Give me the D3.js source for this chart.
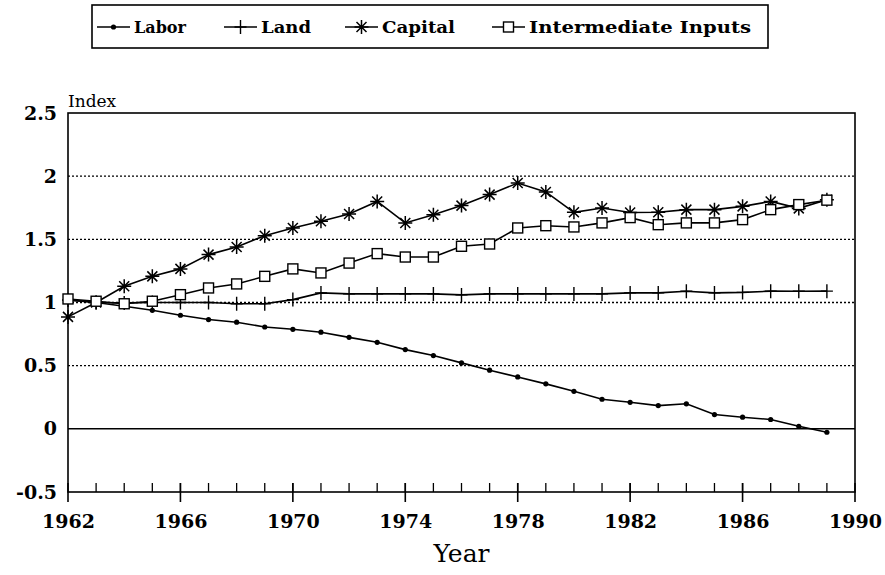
<!DOCTYPE html>
<html><head><meta charset="utf-8">
<script src="https://cdn.jsdelivr.net/npm/d3@7"></script>
<style>body{margin:0;background:#fff}svg{display:block}</style>
</head><body>
<svg id="c" width="885" height="575"></svg>
<script>
const years = d3.range(1962, 1990);
const labor = [1.02,1.0,0.97,0.938,0.899,0.865,0.844,0.806,0.788,0.765,0.724,0.685,0.627,0.58,0.522,0.464,0.411,0.356,0.297,0.234,0.21,0.184,0.198,0.113,0.092,0.074,0.02,-0.027];
const land = [1.02,1.0,0.997,1.0,1.0,1.0,0.99,0.99,1.023,1.076,1.068,1.068,1.068,1.068,1.06,1.068,1.068,1.068,1.068,1.068,1.076,1.076,1.089,1.076,1.08,1.09,1.089,1.09];
const capital = [0.886,1.0,1.128,1.207,1.266,1.379,1.44,1.529,1.59,1.643,1.7,1.8,1.63,1.695,1.767,1.854,1.946,1.875,1.714,1.748,1.712,1.714,1.735,1.735,1.761,1.8,1.745,1.814];
const intermediate = [1.028,1.01,0.99,1.01,1.062,1.115,1.147,1.207,1.266,1.234,1.312,1.387,1.36,1.36,1.445,1.463,1.59,1.608,1.598,1.63,1.672,1.616,1.63,1.63,1.656,1.735,1.775,1.81];
const seriesNames = ["Labor","Land","Capital","Intermediate Inputs"];
const markerTypes = ["dot","plus","star","square"];
const yTicks = [-0.5,0,0.5,1,1.5,2,2.5];
const yTickLabels = ["-0.5","0","0.5","1","1.5","2","2.5"];
const xMajor = [1962,1966,1970,1974,1978,1982,1986,1990];

const svg = d3.select("#c");
const L = 68, R = 855, T = 113, B = 492;
const x = d3.scaleLinear().domain([1962,1990]).range([L,R]);
const y = d3.scaleLinear().domain([-0.5,2.5]).range([B,T]);

// gridlines
[0.5,1,1.5,2].forEach(v=>{
  svg.append("line").attr("x1",L).attr("x2",R).attr("y1",y(v)).attr("y2",y(v))
    .attr("stroke","#000").attr("stroke-width",1.4).attr("stroke-dasharray","2,2");
});
svg.append("line").attr("x1",L).attr("x2",R).attr("y1",y(0)).attr("y2",y(0))
  .attr("stroke","#000").attr("stroke-width",1.5);
// frame
svg.append("rect").attr("x",L).attr("y",T).attr("width",R-L).attr("height",B-T)
  .attr("fill","none").attr("stroke","#000").attr("stroke-width",1.6);

// x axis ticks
const xAxis = d3.axisBottom(x).tickValues(xMajor).tickFormat(d3.format("d")).tickSize(0).tickPadding(23);
const gx = svg.append("g").attr("transform",`translate(0,${B})`).call(xAxis);
gx.select(".domain").remove();
gx.selectAll("text").attr("font-family","DejaVu Serif").attr("font-weight","bold").attr("font-size",19).attr("fill","#000");
const minor = d3.range(1963,1990);
svg.append("g").selectAll("line").data(minor).join("line")
  .attr("x1",d=>x(d)).attr("x2",d=>x(d)).attr("y1",B).attr("y2",B-9)
  .attr("stroke","#000").attr("stroke-width",1.3);
svg.append("g").selectAll("line").data(xMajor).join("line")
  .attr("x1",d=>x(d)).attr("x2",d=>x(d)).attr("y1",B-9).attr("y2",B+10)
  .attr("stroke","#000").attr("stroke-width",1.6);

// y labels
const yAxis = d3.axisLeft(y).tickValues(yTicks).tickFormat((d,i)=>yTickLabels[i]).tickSize(0).tickPadding(11);
const gy = svg.append("g").attr("transform",`translate(${L},0)`).call(yAxis);
gy.select(".domain").remove();
gy.selectAll("text").attr("font-family","DejaVu Serif").attr("font-weight","bold").attr("font-size",19).attr("fill","#000");

svg.append("text").attr("x",L).attr("y",107).text("Index")
  .attr("font-family","DejaVu Serif").attr("font-size",17);
svg.append("text").attr("x",(L+R)/2).attr("y",562).attr("text-anchor","middle").text("Year")
  .attr("font-family","DejaVu Serif").attr("font-size",25);

function marker(g, type, cx, cy){
  if(type==="dot"){
    g.append("circle").attr("cx",cx).attr("cy",cy).attr("r",2.6).attr("fill","#000");
  } else if(type==="plus"){
    g.append("path").attr("d",`M${cx-6},${cy}H${cx+6}M${cx},${cy-7}V${cy+7}`)
      .attr("stroke","#000").attr("stroke-width",1.4).attr("fill","none");
  } else if(type==="star"){
    const r=7, d=5;
    g.append("path").attr("d",`M${cx-r},${cy}H${cx+r}M${cx},${cy-r}V${cy+r}M${cx-d},${cy-d}L${cx+d},${cy+d}M${cx-d},${cy+d}L${cx+d},${cy-d}`)
      .attr("stroke","#000").attr("stroke-width",1.5).attr("fill","none");
  } else {
    g.append("rect").attr("x",cx-5).attr("y",cy-5).attr("width",10).attr("height",10)
      .attr("fill","#fff").attr("stroke","#000").attr("stroke-width",1.4);
  }
}

const allSeries = [labor, land, capital, intermediate];
const line = d3.line().x((d,i)=>x(years[i])).y(d=>y(d));
allSeries.forEach((s)=>{
  svg.append("path").datum(s).attr("d",line).attr("fill","none").attr("stroke","#000").attr("stroke-width",1.6);
});
allSeries.forEach((s,k)=>{
  const g = svg.append("g");
  s.forEach((v,i)=>marker(g, markerTypes[k], x(years[i]), y(v)));
});

// legend
const lg = svg.append("g");
lg.append("rect").attr("x",92).attr("y",5).attr("width",676).attr("height",43)
  .attr("fill","#fff").attr("stroke","#000").attr("stroke-width",1.6);
const legX = [97,224,345,492];
const legW = [52,50,73,222];
seriesNames.forEach((n,k)=>{
  const x0 = legX[k];
  lg.append("line").attr("x1",x0).attr("x2",x0+33).attr("y1",27).attr("y2",27).attr("stroke","#000").attr("stroke-width",1.6);
  marker(lg, markerTypes[k], x0+16.5, 27);
  lg.append("text").attr("x",x0+37).attr("y",33).text(n)
    .attr("font-family","DejaVu Serif").attr("font-weight","bold").attr("font-size",16)
    .attr("textLength",legW[k]).attr("lengthAdjust","spacingAndGlyphs");
});
</script>
</body></html>
